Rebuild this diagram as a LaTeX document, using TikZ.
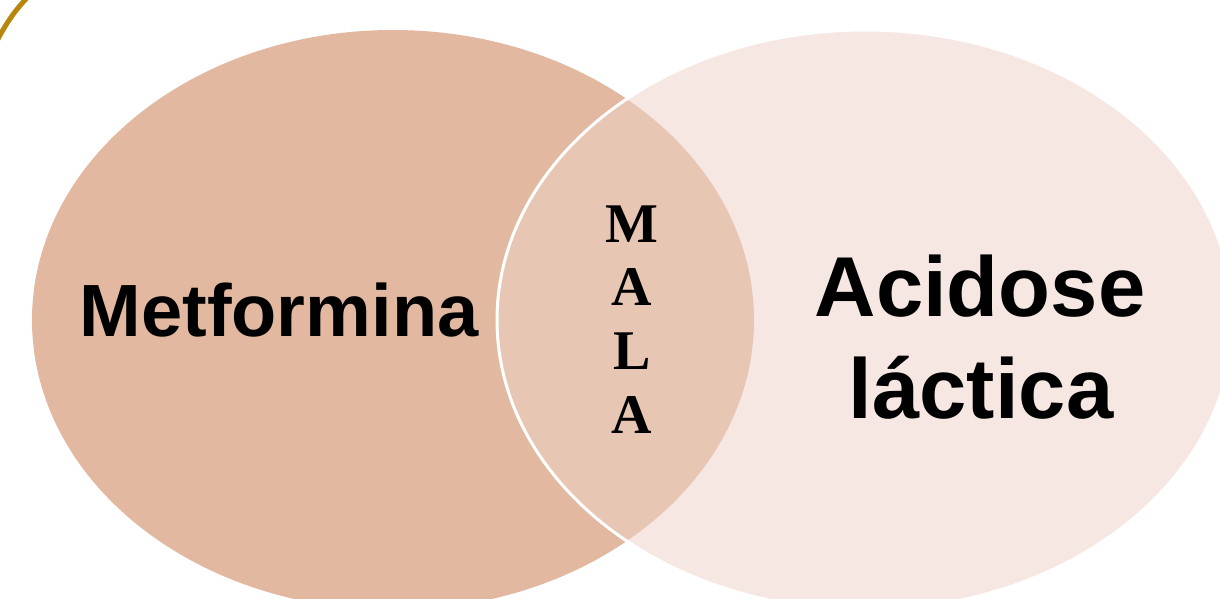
\documentclass[tikz,border=0pt]{standalone}
\usepackage{fontspec}
\setmainfont{Liberation Sans}
\newfontfamily\malafont{Liberation Serif}
\definecolor{leftfill}{HTML}{E2B9A0}
\definecolor{rightfill}{HTML}{F6E7E3}
\definecolor{lensfill}{HTML}{E8C6B4}
\definecolor{goldarc}{HTML}{B8860B}
\tikzset{
  bigtext/.style={font=\fontsize{74}{80}\selectfont\bfseries, text=black, inner sep=0pt},
  rtext/.style={font=\fontsize{85}{100}\selectfont\bfseries, text=black, inner sep=0pt, align=center},
  malatext/.style={font=\malafont\fontsize{56}{64}\selectfont\bfseries, text=black, inner sep=0pt, align=center},
}
\begin{document}
\begin{tikzpicture}[x=1pt,y=-1pt]
\useasboundingbox (0,0) rectangle (1220,598);
\clip (0,0) rectangle (1220,598);
\coordinate (lc) at (393,320);
\coordinate (rc) at (865,320);
% left circle
\fill[leftfill] (lc) ellipse [x radius=361pt, y radius=290pt];
% right circle
\fill[rightfill] (rc) ellipse [x radius=368pt, y radius=290pt];
% lens
\begin{scope}
\clip (lc) ellipse [x radius=361pt, y radius=290pt];
\fill[lensfill] (rc) ellipse [x radius=368pt, y radius=290pt];
\end{scope}
% white outline of right circle
\draw[white, line width=3pt] (rc) ellipse [x radius=368pt, y radius=290pt];
% gold arc at top-left
\coordinate (g1) at (-6,47);
\coordinate (g2) at (31,-6);
\draw[goldarc, line width=5pt] (g1) .. controls (3,28) and (15,9) .. (g2);
% texts
\node[bigtext, anchor=base] (met) at (279,336) {Metformina};
\node[rtext, anchor=base] (acid) at (980,316) {Acidose};
\node[rtext, anchor=base] (lact) at (981,418) {láctica};
\node[malatext, anchor=base] (m1) at (632,242) {M};
\node[malatext, anchor=base] (m2) at (632,305) {A};
\node[malatext, anchor=base] (m3) at (632,369) {L};
\node[malatext, anchor=base] (m4) at (632,433) {A};
\end{tikzpicture}
\end{document}
